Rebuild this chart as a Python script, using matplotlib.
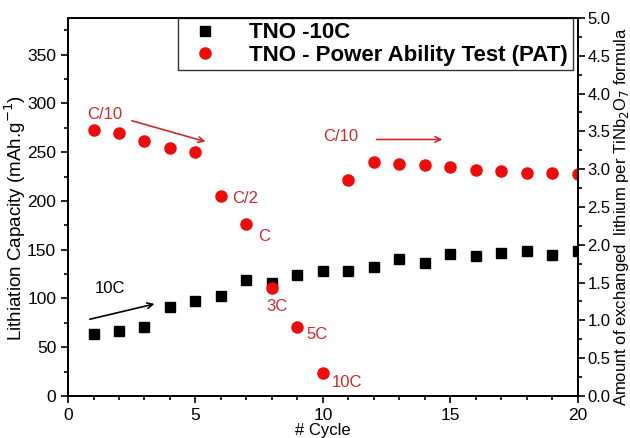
import numpy as np
import matplotlib
matplotlib.use("Agg")
import matplotlib.pyplot as plt
from matplotlib.ticker import MultipleLocator, FormatStrFormatter

plt.rcParams['font.family'] = ['Liberation Sans', 'DejaVu Sans']

# data
cycles = np.arange(1, 21)
cap_10c = [64, 67, 71, 91, 97, 103, 119, 116, 124, 128,
           128, 132, 140, 136, 146, 143, 147, 149, 145, 149]
cap_pat = [273, 270, 261, 254, 250, 205, 176, 111, 71, 24,
           221, 240, 238, 237, 235, 232, 231, 229, 229, 228]
rate_labels = ["C/2", "C", "3C", "5C", "10C"]
rate_cycles = [6, 7, 8, 9, 10]

# 5 Li per TiNb2O7 ~ 387.6 mAh/g
cap_max = 387.6
red = '#f00a0a'
dred = '#cc2a2a'

fig = plt.figure(figsize=(6.3, 4.38), dpi=100)
ax = fig.add_axes([0.108, 0.096, 0.809, 0.863])

ax.plot(cycles, cap_10c, 's', color='black', markersize=6.5, label='TNO -10C')
ax.plot(cycles, cap_pat, 'o', color=red, markersize=8,
        label='TNO - Power Ability Test (PAT)')

ax.set_xlim(0, 20)
ax.set_ylim(0, cap_max)
ax.xaxis.set_major_locator(MultipleLocator(5))
ax.xaxis.set_minor_locator(MultipleLocator(1))
ax.yaxis.set_major_locator(MultipleLocator(50))
ax.yaxis.set_minor_locator(MultipleLocator(25))
ax.tick_params(which='both', direction='out', labelsize=12.5, width=1.2)
ax.tick_params(which='major', length=5)
ax.tick_params(which='minor', length=3)
ax.set_xlabel('# Cycle', fontsize=12, labelpad=0)
ax.set_ylabel('Lithiation Capacity (mAh.g$^{-1}$)', fontsize=13.5, labelpad=1)
ax.yaxis.set_label_coords(-0.078, 0.47)
for s in ax.spines.values():
    s.set_linewidth(1.3)

ax2 = ax.twinx()
ax2.set_ylim(0, 5)
ax2.yaxis.set_major_locator(MultipleLocator(0.5))
ax2.yaxis.set_minor_locator(MultipleLocator(0.25))
ax2.yaxis.set_major_formatter(FormatStrFormatter('%.1f'))
ax2.tick_params(which='both', direction='out', labelsize=12, width=1.2, pad=2)
ax2.tick_params(which='major', length=5)
ax2.tick_params(which='minor', length=3)
ax2.set_ylabel('Amount of exchanged  lithium per TiNb$_2$O$_7$ formula',
               fontsize=12, labelpad=1)
ax2.yaxis.set_label_coords(1.068, 0.475)
for s in ax2.spines.values():
    s.set_linewidth(1.3)

# rate annotations
offsets = [(0.45, -3), (0.45, -13), (-0.2, -19), (0.35, -8), (0.35, -10)]
for lab, c, (dx, dy) in zip(rate_labels, rate_cycles, offsets):
    ax.text(c + dx, cap_pat[c - 1] + dy, lab, color=dred, fontsize=12,
            va='center', ha='left')

ax.text(0.75, 289, 'C/10', color=dred, fontsize=12, va='center')
ax.annotate('', xy=(5.5, 260), xytext=(2.4, 283),
            arrowprops=dict(arrowstyle='->', color=dred, lw=1.2))
ax.text(10.0, 266, 'C/10', color=dred, fontsize=12, va='center')
ax.annotate('', xy=(14.8, 263), xytext=(12.0, 263),
            arrowprops=dict(arrowstyle='->', color=dred, lw=1.2))
ax.text(1.05, 110, '10C', color='black', fontsize=12, va='center')
ax.annotate('', xy=(3.5, 95), xytext=(0.75, 78),
            arrowprops=dict(arrowstyle='->', color='black', lw=1.2))

h1, l1 = ax.get_legend_handles_labels()
leg = ax.legend(h1, l1, loc='upper right', bbox_to_anchor=(0.99, 1.0),
                borderaxespad=0, frameon=True, fancybox=False,
                prop={'weight': 'bold', 'size': 16}, handletextpad=1.0,
                borderpad=0.2, labelspacing=0.05, handlelength=2.0)
leg.get_frame().set_edgecolor('black')
leg.get_frame().set_linewidth(1.0)

fig.savefig('out.png', dpi=100)
